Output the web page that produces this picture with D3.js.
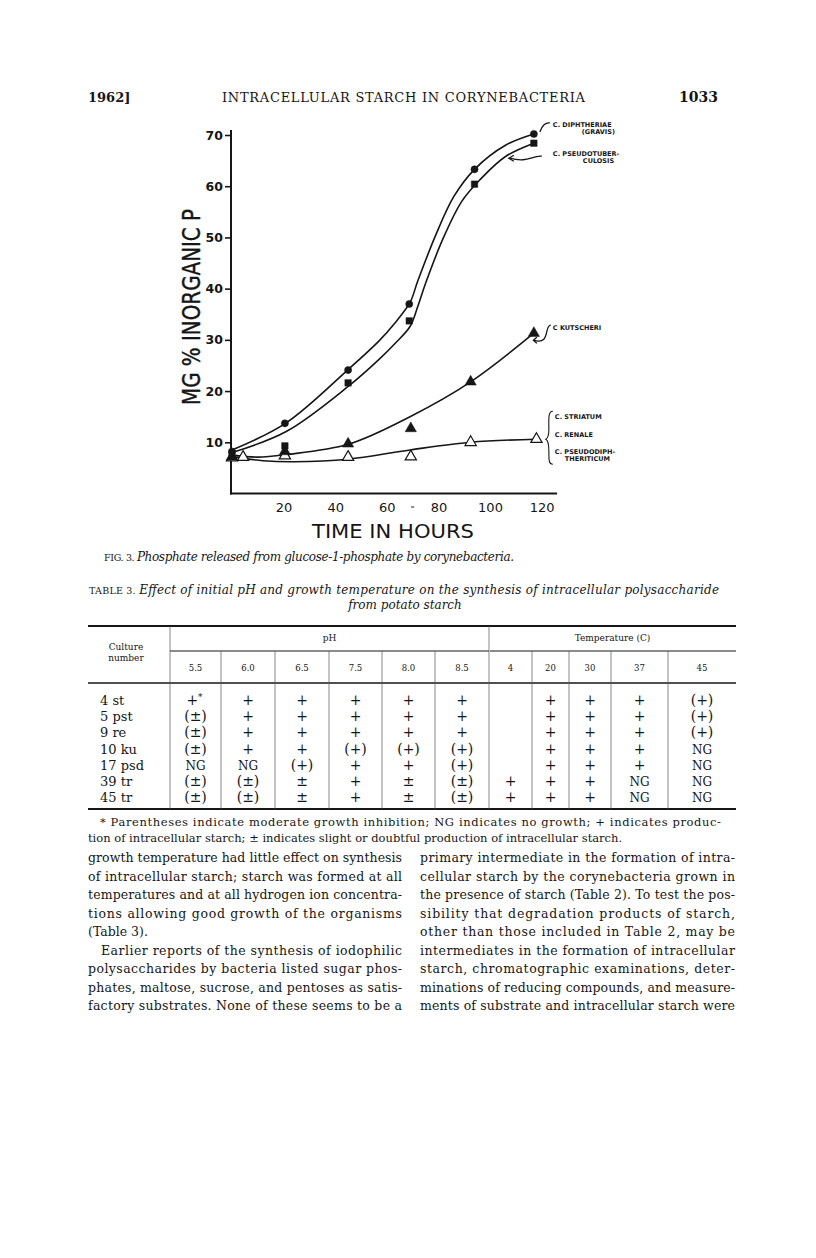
<!DOCTYPE html>
<html>
<head>
<meta charset="utf-8">
<script src="https://cdn.jsdelivr.net/npm/d3@7"></script>
<style>
body { margin: 0; background: #fff; }
svg { display: block; }
</style>
</head>
<body>
<div id="page"></div>
<script>
// ---- figure 3 : measured points (hours, mg % inorganic P)
var diphT = [0, 20.5, 45, 68.7, 94, 117];
var diphV = [8.2, 13.7, 24.1, 37.0, 63.3, 70.2];
var pstT = [0, 20.5, 45, 68.7, 94, 117];
var pstV = [7.6, 9.3, 21.6, 33.7, 60.4, 68.4];
var kutT = [0, 20.5, 45, 69.3, 92.5, 117];
var kutV = [7.2, 8.2, 9.7, 12.7, 21.8, 31.3];
var strT = [0, 4.3, 20.5, 45, 69.3, 92.5, 118];
var strV = [7.0, 7.1, 7.4, 7.1, 7.2, 10.0, 10.6];

// hand drawn curves
var diphCurveT = [0, 21, 45, 57, 63, 69, 72, 79, 86, 94, 106, 117];
var diphCurveV = [8.5, 13.8, 24.2, 29.8, 33.2, 37.3, 41.5, 50.5, 58, 63.3, 68, 70.2];
var pstCurveT = [0, 21, 45, 57, 63, 69, 72, 75, 82, 89, 96, 106, 117];
var pstCurveV = [8.0, 12.1, 20.9, 26.2, 29.2, 32.6, 36.5, 41, 50, 57, 61.2, 65.8, 68.4];
var kutCurveT = [0, 10, 21, 45, 69, 92.5, 117];
var kutCurveV = [7.5, 7.1, 7.6, 9.6, 15.0, 21.8, 31.3];
var strCurveT = [0, 12, 24, 45, 69, 92.5, 118];
var strCurveV = [7.2, 6.4, 6.2, 6.7, 8.5, 10.0, 10.6];

var xTicks = [20, 40, 60, 80, 100, 120];
var yTicks = [10, 20, 30, 40, 50, 60, 70];

// ---- table 3
var phCols = ["5.5", "6.0", "6.5", "7.5", "8.0", "8.5"];
var tempCols = ["4", "20", "30", "37", "45"];
var cultures = ["4 st", "5 pst", "9 re", "10 ku", "17 psd", "39 tr", "45 tr"];
var row4st = ["+*", "+", "+", "+", "+", "+", "", "+", "+", "+", "(+)"];
var row5pst = ["(±)", "+", "+", "+", "+", "+", "", "+", "+", "+", "(+)"];
var row9re = ["(±)", "+", "+", "+", "+", "+", "", "+", "+", "+", "(+)"];
var row10ku = ["(±)", "+", "+", "(+)", "(+)", "(+)", "", "+", "+", "+", "NG"];
var row17psd = ["NG", "NG", "(+)", "+", "+", "(+)", "", "+", "+", "+", "NG"];
var row39tr = ["(±)", "(±)", "±", "+", "±", "(±)", "+", "+", "+", "NG", "NG"];
var row45tr = ["(±)", "(±)", "±", "+", "±", "(±)", "+", "+", "+", "NG", "NG"];
var cells = [row4st, row5pst, row9re, row10ku, row17psd, row39tr, row45tr];

var footnote = [
  "* Parentheses indicate moderate growth inhibition; NG indicates no growth; + indicates produc-",
  "tion of intracellular starch; ± indicates slight or doubtful production of intracellular starch."
];
var leftCol = [
  "growth temperature had little effect on synthesis",
  "of intracellular starch; starch was formed at all",
  "temperatures and at all hydrogen ion concentra-",
  "tions allowing good growth of the organisms",
  "(Table 3).",
  "Earlier reports of the synthesis of iodophilic",
  "polysaccharides by bacteria listed sugar phos-",
  "phates, maltose, sucrose, and pentoses as satis-",
  "factory substrates. None of these seems to be a"
];
var rightCol = [
  "primary intermediate in the formation of intra-",
  "cellular starch by the corynebacteria grown in",
  "the presence of starch (Table 2). To test the pos-",
  "sibility that degradation products of starch,",
  "other than those included in Table 2, may be",
  "intermediates in the formation of intracellular",
  "starch, chromatographic examinations, deter-",
  "minations of reducing compounds, and measure-",
  "ments of substrate and intracellular starch were"
];

var ink = "#161616";
var serif = "'DejaVu Serif', 'Liberation Serif', serif";
var sans = "'DejaVu Sans', sans-serif";

var svg = d3.select("#page").append("svg")
  .attr("width", 816)
  .attr("height", 1258);
svg.append("rect").attr("width", 816).attr("height", 1258).attr("fill", "#fff");

// ---- running head
svg.append("text").attr("x", 88).attr("y", 102)
  .style("font-family", serif).style("font-size", "13px").style("font-weight", "bold")
  .attr("fill", ink).text("1962]");
svg.append("text").attr("x", 222).attr("y", 102).attr("textLength", 363)
  .style("font-family", serif).style("font-size", "13px")
  .attr("fill", ink).text("INTRACELLULAR STARCH IN CORYNEBACTERIA");
svg.append("text").attr("x", 718).attr("y", 102).attr("text-anchor", "end")
  .style("font-family", serif).style("font-size", "14px").style("font-weight", "bold")
  .attr("fill", ink).text("1033");

// ---- figure
var x = d3.scaleLinear().domain([0, 120]).range([232, 541.6]);
var y = d3.scaleLinear().domain([0, 70]).range([493.5, 135]);

var gy = svg.append("g").attr("transform", "translate(231,0)")
  .call(d3.axisLeft(y).tickValues(yTicks).tickSize(6).tickPadding(2));
gy.select(".domain").remove();
gy.selectAll("line").attr("stroke", ink).attr("stroke-width", 1.6);
gy.selectAll("text").attr("fill", ink)
  .style("font-family", sans).style("font-size", "12.5px").style("font-weight", "bold");

var gx = svg.append("g").attr("transform", "translate(0," + y(0) + ")")
  .call(d3.axisBottom(x).tickValues(xTicks).tickSize(0).tickPadding(9));
gx.select(".domain").remove();
gx.selectAll("text").attr("fill", ink)
  .style("font-family", sans).style("font-size", "13px");

svg.append("line")
  .attr("x1", 231).attr("x2", 231).attr("y1", y(71)).attr("y2", y(0) + 1)
  .attr("stroke", ink).attr("stroke-width", 2);
svg.append("line")
  .attr("x1", 230).attr("x2", x(126)).attr("y1", y(0)).attr("y2", y(0))
  .attr("stroke", ink).attr("stroke-width", 2);
// stray mark between 60 and 80 in the print
svg.append("line")
  .attr("x1", x(70) - 1.5).attr("x2", x(70) + 1.5).attr("y1", 507).attr("y2", 507)
  .attr("stroke", ink).attr("stroke-width", 1);

svg.append("text")
  .attr("transform", "translate(192,307) rotate(-90)")
  .attr("text-anchor", "middle").attr("dy", "0.35em")
  .attr("textLength", 196).attr("lengthAdjust", "spacingAndGlyphs")
  .style("font-family", sans).style("font-size", "24px")
  .attr("stroke", ink).attr("stroke-width", 0.4)
  .attr("fill", ink).text("MG % INORGANIC P");

svg.append("text")
  .attr("x", 312).attr("y", 538)
  .attr("textLength", 162).attr("lengthAdjust", "spacingAndGlyphs")
  .style("font-family", sans).style("font-size", "20px")
  .attr("fill", ink).text("TIME IN HOURS");

var line = d3.line()
  .x(function(d) { return x(d[0]); })
  .y(function(d) { return y(d[1]); })
  .curve(d3.curveCatmullRom.alpha(0.5));

function draw_curve(ts, vs) {
  svg.append("path")
    .datum(d3.zip(ts, vs))
    .attr("d", line)
    .attr("fill", "none")
    .attr("stroke", ink)
    .attr("stroke-width", 1.6);
}
draw_curve(diphCurveT, diphCurveV);
draw_curve(pstCurveT, pstCurveV);
draw_curve(kutCurveT, kutCurveV);
draw_curve(strCurveT, strCurveV);

function draw_points(ts, vs, type, size, filled) {
  svg.append("g").selectAll("path")
    .data(d3.zip(ts, vs))
    .join("path")
    .attr("transform", function(d) { return "translate(" + x(d[0]) + "," + y(d[1]) + ")"; })
    .attr("d", d3.symbol().type(type).size(size))
    .attr("fill", filled ? ink : "#fff")
    .attr("stroke", ink)
    .attr("stroke-width", filled ? 0.5 : 1.2);
}
draw_points(strT, strV, d3.symbolTriangle, 55, false);
draw_points(kutT, kutV, d3.symbolTriangle, 55, true);
draw_points(pstT, pstV, d3.symbolSquare, 42, true);
draw_points(diphT, diphV, d3.symbolCircle, 40, true);

// ---- curve labels
function label(txt, lx, ly) {
  svg.append("text").attr("x", lx).attr("y", ly)
    .style("font-family", sans).style("font-size", "6.5px").style("font-weight", "bold")
    .attr("fill", ink).text(txt);
}
function stroke_path(d, w) {
  svg.append("path").attr("d", d).attr("fill", "none")
    .attr("stroke", ink).attr("stroke-width", w || 1.3);
}
var ex = x(117);
var dy1 = y(70.2), dy2 = y(68.4), ky = y(31.3), by = y(10.6);
label("C. DIPHTHERIAE", ex + 19, dy1 - 7);
label("(GRAVIS)", ex + 48, dy1 + 0.5);
stroke_path("M" + (ex + 6) + "," + (dy1 - 2) + " C" + (ex + 8) + "," + (dy1 - 8) +
  " " + (ex + 12) + "," + (dy1 - 12) + " " + (ex + 16) + "," + (dy1 - 11));
label("C. PSEUDOTUBER-", ex + 19, dy2 + 13);
label("CULOSIS", ex + 49, dy2 + 20);
stroke_path("M" + (ex + 8) + "," + (dy2 + 13) + " C" + (ex - 2) + "," + (dy2 + 12) +
  " " + (ex - 6) + "," + (dy2 + 20) + " " + (ex - 24) + "," + (dy2 + 15));
stroke_path("M" + (ex - 20) + "," + (dy2 + 12) + " L" + (ex - 25) + "," + (dy2 + 15) +
  " L" + (ex - 20) + "," + (dy2 + 18));

label("C KUTSCHERI", ex + 19, ky - 3);
stroke_path("M" + (ex + 17) + "," + (ky - 8) + " C" + (ex + 12) + "," + (ky - 8) +
  " " + (ex + 14) + "," + (ky + 2) + " " + (ex + 10) + "," + (ky + 6) +
  " C" + (ex + 7) + "," + (ky + 9) + " " + (ex + 3) + "," + (ky + 8) + " " + (ex) + "," + (ky + 7));
stroke_path("M" + (ex + 3) + "," + (ky + 4) + " L" + (ex - 0.5) + "," + (ky + 7) +
  " L" + (ex + 3) + "," + (ky + 10));

label("C. STRIATUM", ex + 21, by - 20);
label("C. RENALE", ex + 21, by - 2);
label("C. PSEUDODIPH-", ex + 21, by + 14.5);
label("THERITICUM", ex + 31, by + 21.5);
stroke_path("M" + (ex + 19) + "," + (by - 28) + " C" + (ex + 14) + "," + (by - 28) + " " + (ex + 15) + "," + (by - 20) +
  " " + (ex + 15) + "," + (by - 10) + " C" + (ex + 15) + "," + (by - 4) + " " + (ex + 14) + "," + (by - 1) +
  " " + (ex + 12) + "," + by + " C" + (ex + 14) + "," + (by + 1) + " " + (ex + 15) + "," + (by + 4) +
  " " + (ex + 15) + "," + (by + 12) + " C" + (ex + 15) + "," + (by + 22) + " " + (ex + 15) + "," + (by + 25) +
  " " + (ex + 19) + "," + (by + 25), 1.1);

// ---- caption
var cap = svg.append("text").attr("x", 104).attr("y", 561).attr("textLength", 410)
  .style("font-family", serif).style("font-size", "12px").attr("fill", ink);
cap.append("tspan").style("font-size", "9.5px").text("FIG. 3. ");
cap.append("tspan").style("font-style", "italic")
  .text("Phosphate released from glucose-1-phosphate by corynebacteria.");

// ---- table title
var tt = svg.append("text").attr("x", 89).attr("y", 594).attr("textLength", 630)
  .style("font-family", serif).style("font-size", "12px").attr("fill", ink);
tt.append("tspan").style("font-size", "9.5px").text("TABLE 3. ");
tt.append("tspan").style("font-style", "italic")
  .text("Effect of initial pH and growth temperature on the synthesis of intracellular polysaccharide");
svg.append("text").attr("x", 405).attr("y", 609).attr("text-anchor", "middle")
  .style("font-family", serif).style("font-size", "12px").style("font-style", "italic")
  .attr("fill", ink).text("from potato starch");

// ---- table body
var colEdges = [170, 221, 275, 329, 382, 435, 489, 532, 569, 611, 668, 736];
var tLeft = 88, tRight = 736, tTop = 626, tSub = 683, tBottom = 809;
var rowY = d3.scaleLinear().domain([0, 6]).range([705, 802]);

function hrule(x1, x2, yy, w) {
  svg.append("line").attr("x1", x1).attr("x2", x2).attr("y1", yy).attr("y2", yy)
    .attr("stroke", ink).attr("stroke-width", w);
}
hrule(tLeft, tRight, tTop, 1.8);
hrule(colEdges[0], colEdges[6], 651, 1);
hrule(colEdges[6] + 1, tRight, 651, 1);
hrule(tLeft, tRight, tSub, 1.4);
hrule(tLeft, tRight, tBottom, 1.8);

svg.append("g").selectAll("line")
  .data(colEdges.slice(0, 11))
  .join("line")
  .attr("x1", function(d) { return d; }).attr("x2", function(d) { return d; })
  .attr("y1", function(d, i) { return (i === 0 || i === 6) ? tTop : 651; })
  .attr("y2", tBottom)
  .attr("stroke", "#555").attr("stroke-width", 0.7);

function cell(txt, cx, cy, size, anchor) {
  return svg.append("text").attr("x", cx).attr("y", cy)
    .attr("text-anchor", anchor || "middle")
    .style("font-family", serif).style("font-size", size + "px")
    .attr("fill", ink).text(txt);
}
cell("Culture", 126, 650, 9);
cell("number", 126, 661, 9);
cell("pH", (colEdges[0] + colEdges[6]) / 2, 641, 9);
cell("Temperature (C)", (colEdges[6] + tRight) / 2, 641, 9);

var heads = phCols.concat(tempCols);
heads.forEach(function(h, i) {
  cell(h, (colEdges[i] + colEdges[i + 1]) / 2, 671, 8.5);
});

cultures.forEach(function(c, r) {
  cell(c, 100, rowY(r), 13, "start");
  cells[r].forEach(function(v, i) {
    var cx = (colEdges[i] + colEdges[i + 1]) / 2;
    if (v === "+*") {
      var t = cell("+", cx - 1, rowY(r), 14);
      t.append("tspan").attr("dy", -5).style("font-size", "9px").text("*");
    } else {
      cell(v, cx, rowY(r), v === "NG" ? 12 : 14);
    }
  });
});

// ---- footnote
svg.append("text").attr("x", 100).attr("y", 826).attr("textLength", 621)
  .style("font-family", serif).style("font-size", "11.5px").attr("fill", ink).text(footnote[0]);
svg.append("text").attr("x", 88).attr("y", 842)
  .style("font-family", serif).style("font-size", "11.5px").attr("fill", ink).text(footnote[1]);

// ---- body text, two justified columns
function column(lines, x0, width, indentRows, lastRows) {
  lines.forEach(function(t, i) {
    var ind = indentRows.indexOf(i) >= 0 ? 13 : 0;
    var el = svg.append("text").attr("x", x0 + ind).attr("y", 862 + i * 18.5)
      .style("font-family", serif).style("font-size", "12.5px")
      .attr("fill", ink).text(t);
    if (lastRows.indexOf(i) < 0) el.attr("textLength", width - ind);
  });
}
column(leftCol, 88, 314, [5], [4]);
column(rightCol, 420, 315, [], []);
</script>
</body>
</html>
